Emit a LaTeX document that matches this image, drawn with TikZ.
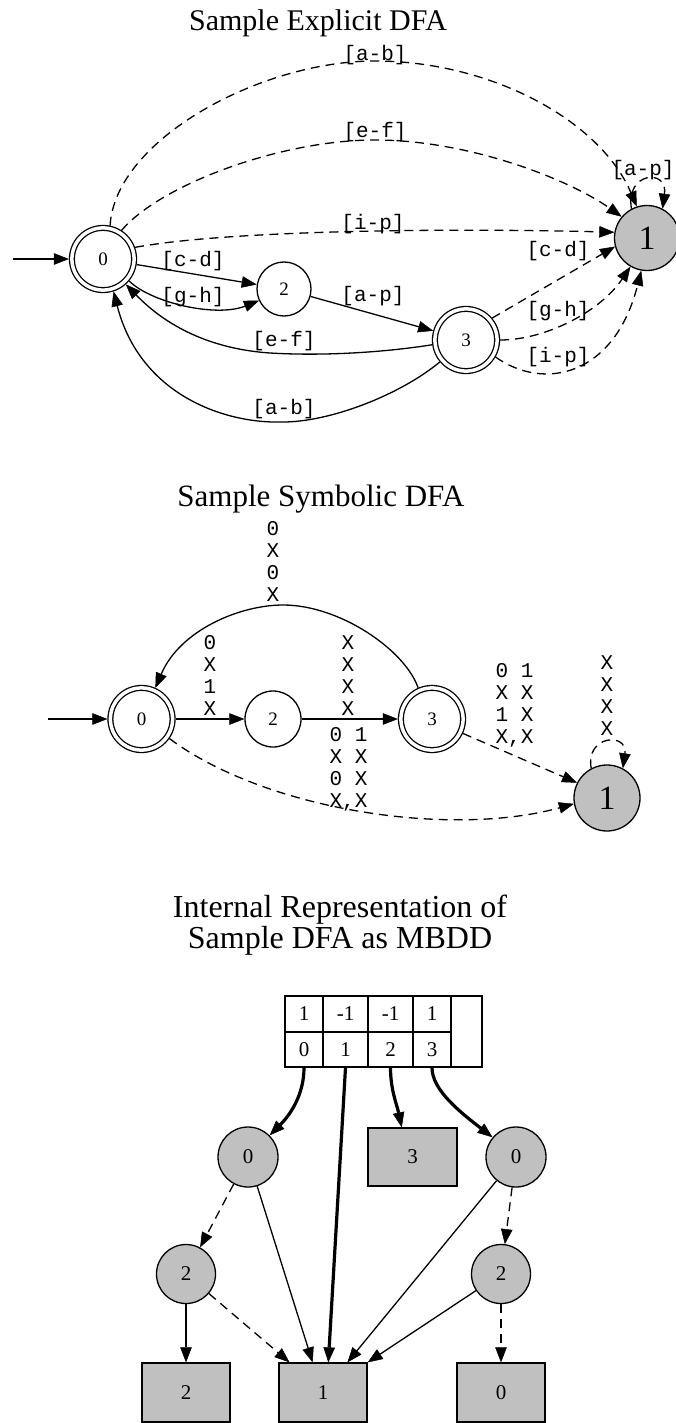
\documentclass[tikz,border=0pt]{standalone}
\usepackage{fontspec}
\setmainfont{Liberation Serif}
\newfontfamily\monofont{Liberation Mono}
\usetikzlibrary{arrows.meta}
\definecolor{nodegray}{RGB}{192,192,192}

\tikzset{
  gedge/.style={->, line width=1.3pt},
  dgedge/.style={gedge, dash pattern=on 9pt off 6pt},
  bgedge/.style={gedge, line width=3.2pt},
  dstate/.style={circle, draw, line width=1.3pt, inner sep=0pt, font=\fontsize{19}{22}\selectfont},
  pstate/.style={dstate, minimum size=54pt},
  astate/.style={dstate, double, double distance=3.5pt, minimum size=62.2pt, outer sep=3pt},
  sink/.style={dstate, fill=nodegray, minimum size=65pt, font=\fontsize{34}{40}\selectfont},
  elabel/.style={font=\monofont\fontsize{21}{22}\selectfont, inner sep=0pt, align=center},
  ttl/.style={anchor=base, inner sep=0pt, font=\fontsize{30}{36}\selectfont},
  bddc/.style={circle, draw, fill=nodegray, line width=1.3pt, minimum size=60pt, inner sep=0pt, font=\fontsize{21}{24}\selectfont},
  bddb/.style={rectangle, draw, fill=nodegray, line width=1.3pt, minimum width=88pt, minimum height=59pt, inner sep=0pt, font=\fontsize{21}{24}\selectfont},
  tcell/.style={rectangle, draw, line width=1.3pt, inner sep=0pt, minimum height=36pt, font=\fontsize{21}{24}\selectfont},
}

\begin{document}
\begin{tikzpicture}[x=1pt, y=-1pt, >={Triangle[length=15pt,width=11.5pt,line width=0.5pt]}]
\fill[white] (0,0) rectangle (675,1423);
\useasboundingbox (0,0) rectangle (675,1423);

% ---------------- explicit automaton ----------------
\node[ttl] (t1) at (318,31) {Sample Explicit DFA};
\coordinate (es) at (13,259);
\node[astate] (e0) at (103,259) {0};
\node[pstate] (e2) at (284,289) {2};
\node[astate] (e3) at (466,340) {3};
\node[sink] (e1) at (647,238) {1};

\draw[gedge] (es) -- (e0);
\draw[gedge] (e0) -- (e2);
\draw[gedge] (e0.-40) .. controls (150,302) and (215,318) .. (e2.205);
\draw[gedge] (e2) -- (e3);
\draw[gedge] (e3.188) .. controls (380,353) and (320,356) .. (270,353)
                      .. controls (225,350) and (175,335) .. (e0.-48);
\draw[gedge] (e3.220) .. controls (400,395) and (330,422) .. (283,422)
                      .. controls (225,424) and (140,395) .. (e0.-72);
\draw[dgedge] (e0.78) .. controls (115,140) and (260,61) .. (375,61)
                      .. controls (490,61) and (600,120) .. (e1.108);
\draw[dgedge] (e0.57) .. controls (160,185) and (280,140) .. (375,140)
                      .. controls (470,140) and (570,180) .. (e1.140);
\draw[dgedge] (e0.20) .. controls (230,230) and (450,228) .. (e1.170);
\draw[dgedge] (e3.40) -- (e1.195);
\draw[dgedge] (e3.0) .. controls (545,340) and (600,312) .. (e1.240);
\draw[dgedge] (e3.-30) .. controls (545,392) and (615,375) .. (e1.260);
\draw[dgedge] (e1.118) .. controls (625,172) and (668,168) .. (e1.62);

\node[elabel] (xab1) at (375,55) {[a-b]};
\node[elabel] (xef1) at (375,132) {[e-f]};
\node[elabel] (xip1) at (373,224) {[i-p]};
\node[elabel] (xcd1) at (193,261) {[c-d]};
\node[elabel] (xgh1) at (193,297) {[g-h]};
\node[elabel] (xap1) at (373,296) {[a-p]};
\node[elabel] (xef2) at (284,341) {[e-f]};
\node[elabel] (xab2) at (284,409) {[a-b]};
\node[elabel] (xcd2) at (558,251) {[c-d]};
\node[elabel] (xgh2) at (558,311) {[g-h]};
\node[elabel] (xip2) at (558,357) {[i-p]};
\node[elabel] (xap2) at (643,170) {[a-p]};

% ---------------- symbolic automaton ----------------
\node[ttl, font=\fontsize{31}{36}\selectfont] (t2) at (321,506) {Sample Symbolic DFA};
\coordinate (ss) at (48,719);
\node[astate] (s0) at (141.5,719) {0};
\node[pstate, minimum size=56pt] (s2) at (273,719) {2};
\node[astate] (s3) at (432,719) {3};
\node[sink, minimum size=66pt] (s1) at (607,798) {1};

\draw[gedge] (ss) -- (s0);
\draw[gedge] (s0) -- (s2);
\draw[gedge] (s2) -- (s3);
\draw[gedge] (s3.114) .. controls (405,650) and (340,605) .. (283,605)
                      .. controls (240,605) and (180,630) .. (s0.66);
\draw[dgedge] (s0.-35) .. controls (265,810) and (450,838) .. (s1.190);
\draw[dgedge] (s3.-25) -- (s1.153);
\draw[dgedge] (s1.118) .. controls (585,735) and (628,732) .. (s1.62);

\node[elabel] (y30) at (273,561.5) {0\\X\\0\\X};
\node[elabel] (y02) at (210,675.5) {0\\X\\1\\X};
\node[elabel] (y23) at (348,675.5) {X\\X\\X\\X};
\node[elabel] (y01) at (348.5,769.5) {0 1\\X X\\0 X\\X,X};
\node[elabel] (y31) at (514.5,705.5) {0 1\\X X\\1 X\\X,X};
\node[elabel] (y11) at (607,695.5) {X\\X\\X\\X};

% ---------------- decision diagram ----------------
\node[ttl, font=\fontsize{32}{36}\selectfont] (t3a) at (340,917) {Internal Representation of};
\node[ttl, font=\fontsize{32}{36}\selectfont] (t3b) at (340,948) {Sample DFA as MBDD};

\node[tcell, minimum width=38pt] (c0t) at (304,1014) {1};
\node[tcell, minimum width=45pt] (c1t) at (345.5,1014) {-1};
\node[tcell, minimum width=45pt] (c2t) at (390.5,1014) {-1};
\node[tcell, minimum width=38pt] (c3t) at (432,1014) {1};
\node[tcell, minimum width=38pt, minimum height=35pt] (c0b) at (304,1049.5) {0};
\node[tcell, minimum width=45pt, minimum height=35pt] (c1b) at (345.5,1049.5) {1};
\node[tcell, minimum width=45pt, minimum height=35pt] (c2b) at (390.5,1049.5) {2};
\node[tcell, minimum width=38pt, minimum height=35pt] (c3b) at (432,1049.5) {3};
\node[tcell, minimum width=31pt, minimum height=71pt] (c4) at (466.5,1031.5) {};

\node[bddc] (m0a) at (248,1157) {0};
\node[bddb, minimum width=89pt, minimum height=58pt] (m3) at (412.5,1157) {3};
\node[bddc] (m0b) at (516,1157) {0};
\node[bddc, minimum size=59pt] (m2a) at (186,1274) {2};
\node[bddc, minimum size=59pt] (m2b) at (501,1274) {2};
\node[bddb] (b2) at (186,1392.5) {2};
\node[bddb] (b1) at (323,1392.5) {1};
\node[bddb] (b0) at (501,1392.5) {0};

\draw[bgedge] (c0b.south) .. controls (304,1095) and (290,1115) .. (m0a.45);
\draw[bgedge] (c1b.south) -- (b1.80);
\draw[bgedge] (c2b.south) .. controls (390.5,1090) and (397,1105) .. (m3.110);
\draw[bgedge] (c3b.south) .. controls (432,1090) and (460,1112) .. (m0b.140);
\draw[dgedge] (m0a) -- (m2a);
\draw[gedge] (m0a) -- (b1.109);
\draw[gedge] (m2a) -- (b2);
\draw[dgedge] (m2a) -- (b1.138);
\draw[gedge] (m0b) -- (b1.51);
\draw[dgedge] (m0b) -- (m2b);
\draw[gedge] (m2b) -- (b1.34);
\draw[dgedge] (m2b) -- (b0);
\end{tikzpicture}
\end{document}
